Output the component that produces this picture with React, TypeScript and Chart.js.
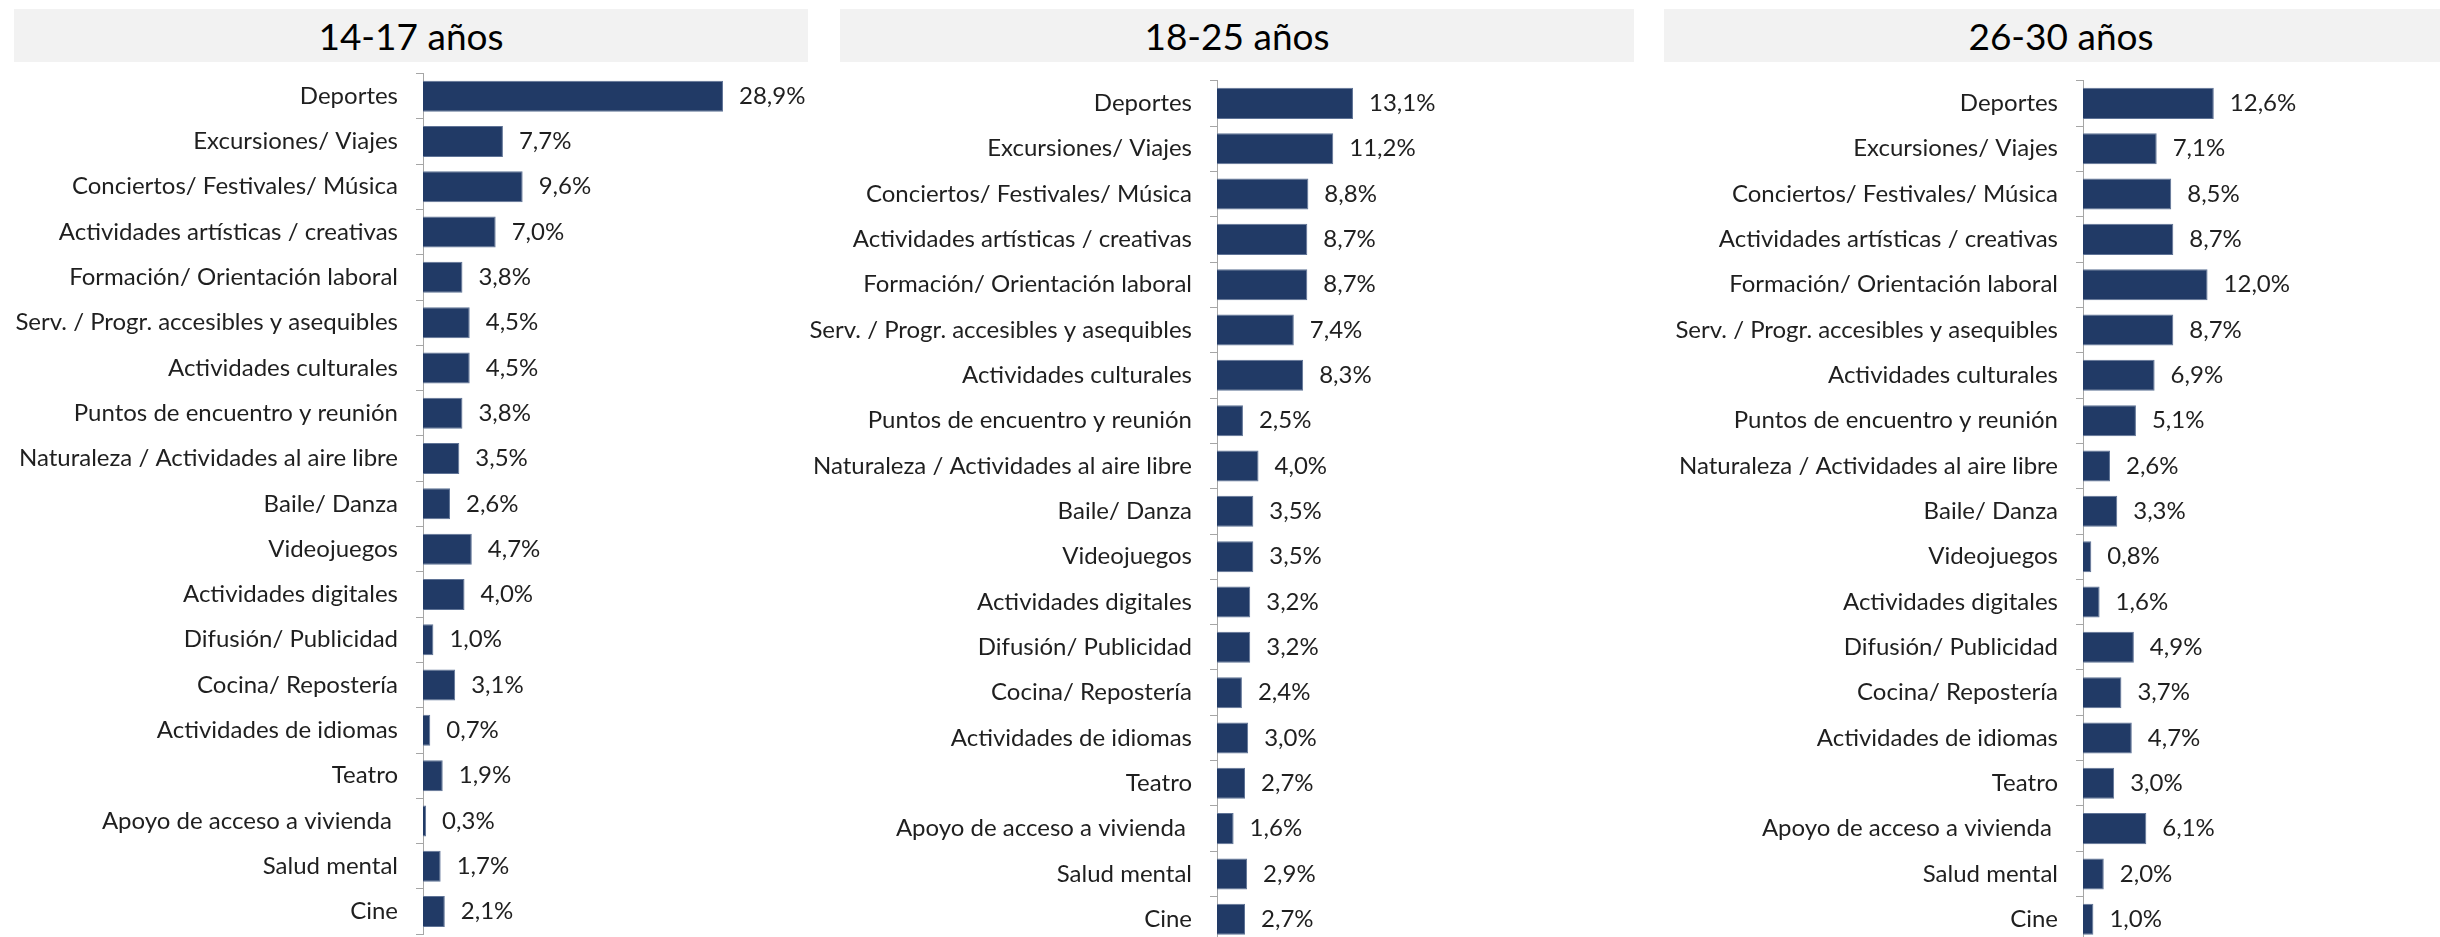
import React, { useEffect, useRef } from "react";
import { Chart, registerables } from "chart.js";

Chart.register(...registerables);

// ---------- data ----------
const categories: string[] = [
  "Deportes",
  "Excursiones/ Viajes",
  "Conciertos/ Festivales/ Música",
  "Actividades artísticas / creativas",
  "Formación/ Orientación laboral",
  "Serv. / Progr. accesibles y asequibles",
  "Actividades culturales",
  "Puntos de encuentro y reunión",
  "Naturaleza / Actividades al aire libre",
  "Baile/ Danza",
  "Videojuegos",
  "Actividades digitales",
  "Difusión/ Publicidad",
  "Cocina/ Repostería",
  "Actividades de idiomas",
  "Teatro",
  "Apoyo de acceso a vivienda ",
  "Salud mental",
  "Cine",
];

const values1417: number[] = [28.9, 7.7, 9.6, 7.0, 3.8, 4.5, 4.5, 3.8, 3.5, 2.6, 4.7, 4.0, 1.0, 3.1, 0.7, 1.9, 0.3, 1.7, 2.1];
const values1825: number[] = [13.1, 11.2, 8.8, 8.7, 8.7, 7.4, 8.3, 2.5, 4.0, 3.5, 3.5, 3.2, 3.2, 2.4, 3.0, 2.7, 1.6, 2.9, 2.7];
const values2630: number[] = [12.6, 7.1, 8.5, 8.7, 12.0, 8.7, 6.9, 5.1, 2.6, 3.3, 0.8, 1.6, 4.9, 3.7, 4.7, 3.0, 6.1, 2.0, 1.0];

const panelTitles: string[] = ["14-17 años", "18-25 años", "26-30 años"];

// ---------- styles / layout ----------
const FONT = "Lato, 'Open Sans', sans-serif";
const LABEL_SIZE = 24;
const TITLE_SIZE = 37;
const TEXT_COLOR = "#1f1f1f";
const BAR_COLOR = "#213a66";
const BAR_BORDER = "#5f7396";
const AXIS_COLOR = "#a6a6a6";
const X_MAX = 30;
const PX_PER_UNIT = 10.38;
const CANVAS_H = 945;
const TICK_LEN = 7;
const LABEL_GAP = 25;
const VALUE_GAP = 16;

const fmt = (v: number) => v.toFixed(1).replace(".", ",") + "%";

const labelPlugin = {
  id: "panelLabels",
  afterDatasetsDraw(chart: any) {
    const ctx = chart.ctx as CanvasRenderingContext2D;
    const yScale = chart.scales.y;
    const area = chart.chartArea;
    const meta = chart.getDatasetMeta(0);
    const data = chart.data.datasets[0].data as number[];
    ctx.save();
    ctx.font = `${LABEL_SIZE}px ${FONT}`;
    ctx.fillStyle = TEXT_COLOR;
    ctx.textBaseline = "middle";
    (chart.data.labels as string[]).forEach((lab, i) => {
      const y = yScale.getPixelForValue(i);
      ctx.textAlign = "right";
      ctx.fillText(lab, area.left - LABEL_GAP, y);
    });
    meta.data.forEach((bar: any, i: number) => {
      ctx.textAlign = "left";
      ctx.fillText(fmt(data[i]), bar.x + VALUE_GAP, bar.y);
    });
    ctx.restore();
  },
};

type PanelProps = {
  title: string;
  values: number[];
  boxLeft: number;
  canvasLeft: number;
  canvasWidth: number;
  axisX: number;
  areaTop: number;
  step: number;
};

function Panel({ title, values, boxLeft, canvasLeft, canvasWidth, axisX, areaTop, step }: PanelProps) {
  const ref = useRef<HTMLCanvasElement | null>(null);

  useEffect(() => {
    if (!ref.current) return;
    const areaBottom = areaTop + step * categories.length;
    const padLeft = axisX - canvasLeft - TICK_LEN;
    const padRight = canvasWidth - (axisX - canvasLeft) - X_MAX * PX_PER_UNIT;
    const chart = new Chart(ref.current, {
      type: "bar",
      data: {
        labels: categories,
        datasets: [
          {
            data: values,
            backgroundColor: BAR_COLOR,
            borderColor: BAR_BORDER,
            borderWidth: 1,
            barPercentage: 0.685,
            categoryPercentage: 1,
          },
        ],
      },
      options: {
        indexAxis: "y",
        animation: false,
        responsive: false,
        devicePixelRatio: 1,
        layout: {
          padding: { left: padLeft, right: padRight, top: areaTop, bottom: CANVAS_H - areaBottom },
        },
        plugins: {
          legend: { display: false },
          tooltip: { enabled: false },
          title: { display: false },
        },
        scales: {
          x: { type: "linear", display: false, min: 0, max: X_MAX },
          y: {
            type: "category",
            display: true,
            ticks: { display: false },
            grid: {
              display: true,
              offset: true,
              drawOnChartArea: false,
              drawTicks: true,
              tickLength: TICK_LEN,
              color: AXIS_COLOR,
              lineWidth: 1,
            },
            border: { display: true, color: AXIS_COLOR, width: 1 },
            afterFit: (s: any) => {
              s.width = TICK_LEN;
            },
          },
        },
      },
      plugins: [labelPlugin],
    });
    return () => chart.destroy();
  }, []);

  return (
    <>
      <div
        style={{
          position: "absolute",
          left: boxLeft,
          top: 9,
          width: 794,
          height: 53,
          background: "#f2f2f2",
          display: "flex",
          alignItems: "center",
          justifyContent: "center",
          fontFamily: FONT,
          fontSize: TITLE_SIZE,
          color: "#000",
        }}
      >
        {title}
      </div>
      <canvas
        ref={ref}
        width={canvasWidth}
        height={CANVAS_H}
        style={{ position: "absolute", left: canvasLeft, top: 0, width: canvasWidth, height: CANVAS_H }}
      />
    </>
  );
}

export default function App() {
  return (
    <div
      style={{
        position: "absolute",
        left: 0,
        top: 0,
        width: 2440,
        height: 937,
        overflow: "hidden",
        background: "#fff",
      }}
    >
      <Panel title={panelTitles[0]} values={values1417} boxLeft={14} canvasLeft={0} canvasWidth={840} axisX={423} areaTop={73.5} step={45.3} />
      <Panel title={panelTitles[1]} values={values1825} boxLeft={840} canvasLeft={760} canvasWidth={840} axisX={1217} areaTop={80.7} step={45.33} />
      <Panel title={panelTitles[2]} values={values2630} boxLeft={1664} canvasLeft={1600} canvasWidth={840} axisX={2083} areaTop={80.7} step={45.33} />
    </div>
  );
}
